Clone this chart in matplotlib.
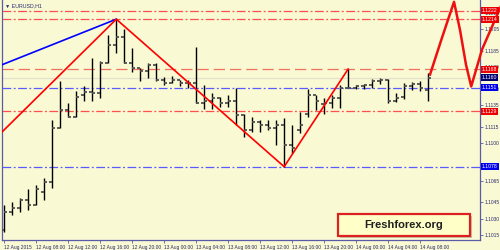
import numpy as np
import matplotlib
matplotlib.use("Agg")
import matplotlib.pyplot as plt
from matplotlib.patches import FancyBboxPatch

#########################################
## DATA ##
#########################################
# EURUSD H1 bars, 12 Aug 04:00 .. 14 Aug 09:00
opens = [1.1020, 1.1036, 1.1040, 1.1047, 1.1043, 1.1055, 1.1064, 1.1114, 1.1130, 1.1124,
         1.1144, 1.1147, 1.1146, 1.1174, 1.1190, 1.1198, 1.1174, 1.1169, 1.1166, 1.1172,
         1.1158, 1.1155, 1.1158, 1.1155, 1.1155, 1.1137, 1.1139, 1.1141, 1.1137, 1.1139,
         1.1126, 1.1112, 1.1119, 1.1116, 1.1114, 1.1116, 1.1098, 1.1112, 1.1127, 1.1144,
         1.1136, 1.1137, 1.1141, 1.1151, 1.1151, 1.1152, 1.1153, 1.1157, 1.1158, 1.1139,
         1.1142, 1.1152, 1.1154, 1.1149]
highs = [1.1043, 1.1045, 1.1049, 1.1057, 1.1061, 1.1068, 1.1121, 1.1157, 1.1137, 1.1148,
         1.1152, 1.1178, 1.1175, 1.1199, 1.1214, 1.1205, 1.1187, 1.1169, 1.1174, 1.1174,
         1.1161, 1.1162, 1.1158, 1.1158, 1.1188, 1.1153, 1.1146, 1.1142, 1.1144, 1.1151,
         1.1127, 1.1124, 1.1121, 1.1121, 1.1121, 1.1123, 1.1116, 1.1128, 1.1150, 1.1144,
         1.1141, 1.1144, 1.1153, 1.1168, 1.1153, 1.1154, 1.1159, 1.1160, 1.1159, 1.1146,
         1.1155, 1.1156, 1.1157, 1.1164]
lows = [1.1018, 1.1033, 1.1036, 1.1038, 1.1043, 1.1047, 1.1058, 1.1114, 1.1124, 1.1124,
        1.1139, 1.1139, 1.1141, 1.1174, 1.1183, 1.1174, 1.1165, 1.1157, 1.1160, 1.1157,
        1.1153, 1.1155, 1.1152, 1.1151, 1.1137, 1.1131, 1.1131, 1.1133, 1.1133, 1.1116,
        1.1105, 1.1110, 1.1110, 1.1112, 1.1098, 1.1078, 1.1091, 1.1109, 1.1124, 1.1130,
        1.1127, 1.1132, 1.1132, 1.1151, 1.1150, 1.1150, 1.1151, 1.1154, 1.1137, 1.1138,
        1.1140, 1.1149, 1.1148, 1.1139]
closes = [1.1036, 1.1040, 1.1047, 1.1043, 1.1057, 1.1064, 1.1114, 1.1130, 1.1124, 1.1142,
          1.1147, 1.1146, 1.1174, 1.1190, 1.1198, 1.1174, 1.1169, 1.1166, 1.1172, 1.1158,
          1.1155, 1.1158, 1.1155, 1.1155, 1.1137, 1.1139, 1.1141, 1.1137, 1.1139, 1.1126,
          1.1112, 1.1119, 1.1116, 1.1114, 1.1116, 1.1098, 1.1095, 1.1116, 1.1144, 1.1139,
          1.1137, 1.1141, 1.1151, 1.1151, 1.1152, 1.1153, 1.1157, 1.1158, 1.1139, 1.1141,
          1.1152, 1.1154, 1.1151, 1.1160]

# zigzag pivots (bar index, price)
zz_red_x = [-0.3, 14, 35, 43]
zz_red_y = [1.1110, 1.1214, 1.1078, 1.1168]
zz_blue_x = [-0.3, 14]
zz_blue_y = [1.1172, 1.1214]

# forecast path drawn past the last bar
fc_x = [53.25, 54.75, 56.25, 57.0, 57.75, 58.4, 59.75, 62.3]
fc_y = [1.1163, 1.1197, 1.1230, 1.1204, 1.1172, 1.1152, 1.1186, 1.1229]

# horizontal levels
levels = [1.1222, 1.1214, 1.1168, 1.1160, 1.1151, 1.1129, 1.1078]
level_colors = ['#ff5050', '#ff5050', '#f27060', '#e2e2cc', '#5a5aff', '#ff5050', '#5a5aff']
dd = (0, (7, 2, 1.5, 2))
level_styles = [dd, dd, (0, (9, 4)), 'solid', dd, dd, dd]
label_colors = ['#ee0000', '#ee0000', '#ee0000', '#000070', '#0000ee', '#ee0000', '#0000ee']

yticks = [1.1220, 1.1205, 1.1185, 1.1170, 1.1150, 1.1135, 1.1115, 1.1100, 1.1080,
          1.1065, 1.1045, 1.1030, 1.1015]
xtick_labels = ['12 Aug 2015', '12 Aug 08:00', '12 Aug 12:00', '12 Aug 16:00',
                '12 Aug 20:00', '13 Aug 00:00', '13 Aug 04:00', '13 Aug 08:00',
                '13 Aug 12:00', '13 Aug 16:00', '13 Aug 20:00', '14 Aug 00:00',
                '14 Aug 04:00', '14 Aug 08:00']

#########################################
## DRAW ##
#########################################
bg = '#f9f9d3'
axis_col = '#5a5aa8'
txt_col = '#2a2a70'
fs = 3.5
plt.rcParams['font.family'] = ['Liberation Sans', 'DejaVu Sans']

fig = plt.figure(figsize=(5, 2.5), dpi=100, facecolor=bg)
ax = fig.add_axes([0.004, 0.04, 0.956, 0.96], facecolor=bg)

n = len(opens)
x = np.arange(n)

# levels first so bars sit on top
for lv, c, ls in zip(levels, level_colors, level_styles):
    ax.axhline(lv, color=c, lw=0.9, linestyle=ls, zorder=1)

# OHLC bars
ax.vlines(x, lows, highs, color='black', lw=1.0, zorder=3)
ax.hlines(opens, x - 0.38, x, color='#505050', lw=1.3, zorder=3)
ax.hlines(closes, x, x + 0.38, color='#505050', lw=1.3, zorder=3)

# zigzag
ax.plot(zz_blue_x, zz_blue_y, color='#0000ff', lw=1.2, zorder=4)
ax.plot(zz_red_x, zz_red_y, color='#ff0000', lw=1.2, zorder=4)
ax.plot(fc_x, fc_y, color='#ee1010', lw=1.8, zorder=6, clip_on=False,
        solid_joinstyle='round')

ax.set_xlim(-0.3, 59.5)
ax.set_ylim(1.10104, 1.12317)

# axes look
ax.spines['top'].set_visible(False)
for s in ['left', 'right', 'bottom']:
    ax.spines[s].set_color(axis_col)
    ax.spines[s].set_linewidth(0.9)

ax.yaxis.tick_right()
ax.set_yticks(yticks)
ax.set_yticklabels(['%.4f' % v for v in yticks])
ax.tick_params(axis='y', direction='out', length=2.5, width=0.6, colors=axis_col,
               labelsize=fs, labelcolor=txt_col, pad=1)

ax.set_xticks(np.arange(0, 4 * len(xtick_labels), 4))
ax.set_xticklabels(xtick_labels, ha='left')
ax.tick_params(axis='x', direction='out', length=2.5, width=0.6, colors=axis_col,
               labelsize=fs, labelcolor=txt_col, pad=1)

# price tags on the right axis
ytr = ax.get_yaxis_transform()
for lv, c in zip(levels, label_colors):
    ax.text(1.004, lv, '%.4f' % lv, transform=ytr, ha='left', va='center',
            fontsize=fs + 0.2, color='white', zorder=7, clip_on=False,
            bbox=dict(boxstyle='square,pad=0.2', fc=c, ec='none'))

# symbol caption
ax.text(0.006, 0.985, '\u25bc EURUSD,H1', transform=ax.transAxes, ha='left', va='top',
        fontsize=fs + 0.3, color=txt_col)

# watermark box
shadow = FancyBboxPatch((0.680, 0.048), 0.264, 0.088, boxstyle='square,pad=0',
                        transform=fig.transFigure, fc='#c8c8a8', ec='none', zorder=7)
box = FancyBboxPatch((0.676, 0.056), 0.264, 0.088, boxstyle='square,pad=0',
                     transform=fig.transFigure, fc='#ffffc8', ec='#dd2020', lw=1.6,
                     zorder=8)
fig.patches.extend([shadow, box])
fig.text(0.808, 0.100, 'Freshforex.org', ha='center', va='center', fontsize=8,
         fontweight='bold', color='#202020', zorder=9)

fig.savefig('out.png', dpi=100, facecolor=bg)
